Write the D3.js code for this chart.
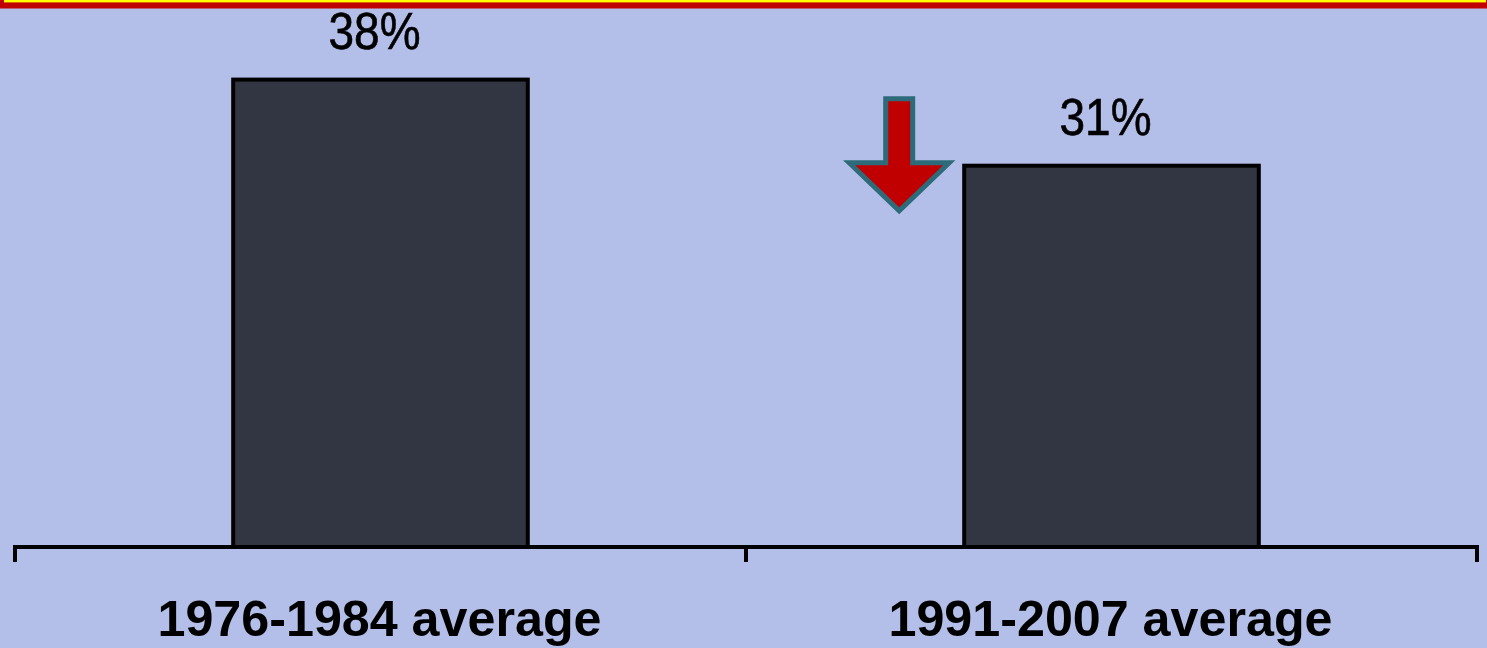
<!DOCTYPE html>
<html>
<head>
<meta charset="utf-8">
<script src="https://cdn.jsdelivr.net/npm/d3@7"></script>
<style>
  html, body { margin: 0; padding: 0; background: #b3bfe9; overflow: hidden; }
  svg { display: block; }
</style>
</head>
<body>
<div class="chart"></div>
<script>
// data
var categories = ["1976-1984 average", "1991-2007 average"];
var values = [38, 31];
var valueLabels = ["38%", "31%"];

var width = 1487, height = 648;

var svg = d3.select(".chart")
  .append("svg")
    .attr("width", width)
    .attr("height", height);

svg.append("rect")
  .attr("width", width)
  .attr("height", height)
  .attr("fill", "#b3bfe9");

// frame remains at the top
svg.append("rect")
  .attr("x", 0).attr("y", 0)
  .attr("width", width).attr("height", 8.5)
  .attr("fill", "#c00000");
svg.append("rect")
  .attr("x", 4).attr("y", 0)
  .attr("width", width - 5).attr("height", 2.4)
  .attr("fill", "#ffff00");

//axis scale: one slot per category, ticks sit on slot edges
var xSlot = d3.scaleBand()
  .domain(categories)
  .range([15, 1477]);

var barWidth = xSlot.bandwidth() * 0.403;

var y = d3.scaleLinear()
  .domain([0, 40])
  .range([547, 547 - 40 * 12.3]);

var barX = function(c) { return xSlot(c) + (xSlot.bandwidth() - barWidth) / 2; };
var barCenter = function(c) { return xSlot(c) + xSlot.bandwidth() / 2; };

svg.append("g")
  .attr("class", "bars")
  .selectAll("rect")
  .data(categories)
  .enter()
  .append("rect")
    .attr("x", function(d) { return barX(d); })
    .attr("y", function(d, i) { return y(values[i]); })
    .attr("width", barWidth)
    .attr("height", function(d, i) { return y(0) - y(values[i]); })
    .attr("fill", "#323642")
    .attr("stroke", "#000")
    .attr("stroke-width", 4);

// x axis line with category-boundary ticks
var tickPositions = categories.map(function(c) { return xSlot(c); })
  .concat([xSlot.range()[1]]);

var axis = svg.append("g").attr("class", "xAxis");
axis.append("line")
  .attr("x1", xSlot.range()[0] - 2)
  .attr("x2", xSlot.range()[1] + 2)
  .attr("y1", y(0)).attr("y2", y(0))
  .attr("stroke", "#000")
  .attr("stroke-width", 4);
axis.selectAll("line.tick")
  .data(tickPositions)
  .enter()
  .append("line")
    .attr("class", "tick")
    .attr("x1", function(d) { return d; })
    .attr("x2", function(d) { return d; })
    .attr("y1", y(0))
    .attr("y2", y(0) + 15)
    .attr("stroke", "#000")
    .attr("stroke-width", 4);

// category labels, lifted a little so the descenders stay inside
axis.selectAll("text")
  .data(categories)
  .enter()
  .append("text")
    .attr("x", function(d) { return barCenter(d) - 1; })
    .attr("y", 636)
    .attr("text-anchor", "middle")
    .attr("font-family", "'Liberation Sans', Arial, sans-serif")
    .attr("font-weight", "bold")
    .attr("font-size", "50px")
    .attr("textLength", 444)
    .attr("lengthAdjust", "spacingAndGlyphs")
    .attr("fill", "#000")
    .text(function(d) { return d; });

// value labels
svg.append("g")
  .attr("class", "values")
  .selectAll("text")
  .data(categories)
  .enter()
  .append("text")
    .attr("x", function(d) { return barCenter(d) - 6; })
    .attr("y", function(d, i) { return y(values[i]) - 31; })
    .attr("text-anchor", "middle")
    .attr("font-family", "'Liberation Sans', Arial, sans-serif")
    .attr("font-size", "51px")
    .attr("textLength", 92)
    .attr("lengthAdjust", "spacingAndGlyphs")
    .attr("fill", "#000")
    .attr("stroke", "#000")
    .attr("stroke-width", 0.6)
    .text(function(d, i) { return valueLabels[i]; });

// red down arrow next to the second bar
var ax = barX(categories[1]) - 65;
var aTop = y(values[1]) - 67;
var aHead = y(values[1]) - 3;
var aTip = y(values[1]) + 45;
var shaftHalf = 13.5, headHalf = 50;
var arrowPath = d3.path();
arrowPath.moveTo(ax - shaftHalf, aTop);
arrowPath.lineTo(ax + shaftHalf, aTop);
arrowPath.lineTo(ax + shaftHalf, aHead);
arrowPath.lineTo(ax + headHalf, aHead);
arrowPath.lineTo(ax, aTip);
arrowPath.lineTo(ax - headHalf, aHead);
arrowPath.lineTo(ax - shaftHalf, aHead);
arrowPath.closePath();

svg.append("path")
  .attr("d", arrowPath.toString())
  .attr("fill", "#c00000")
  .attr("stroke", "#2e6b7a")
  .attr("stroke-width", 5)
  .attr("stroke-linejoin", "miter");
</script>
</body>
</html>
